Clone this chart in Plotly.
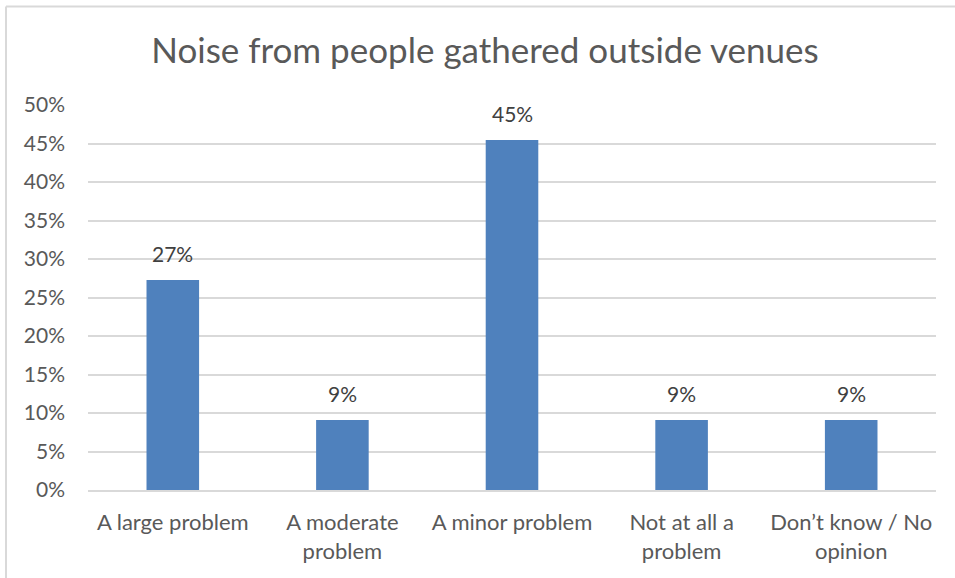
import plotly.graph_objects as go

categories = ["A large problem", "A moderate<br>problem", "A minor problem",
              "Not at all a<br>problem", "Don\u2019t know / No<br>opinion"]
values = [27.27, 9.09, 45.45, 9.09, 9.09]
labels = ["27%", "9%", "45%", "9%", "9%"]
tick_vals = [0, 5, 10, 15, 20, 25, 30, 35, 40, 45, 50]
tick_text = [f"{v}%" for v in tick_vals]

W, H = 955, 578
L, R, T, B = 88, 19, 105, 88
pw, ph = W - L - R, H - T - B

def px_x(p):
    return (p - L) / pw

def px_y(p):
    return (H - B - p) / ph

font = "Lato, 'Open Sans', sans-serif"

fig = go.Figure(go.Bar(
    x=list(range(len(categories))), y=values,
    marker=dict(color="#4F81BD", line=dict(width=0)),
    cliponaxis=False,
))

annotations = [
    dict(x=i, y=v, xref="x", yref="y", text=t, showarrow=False,
         yanchor="bottom", xanchor="center", yshift=12,
         font=dict(family=font, size=21, color="#404040"))
    for i, (v, t) in enumerate(zip(values, labels))
]

fig.update_layout(
    width=W, height=H,
    margin=dict(l=L, r=R, t=T, b=B),
    paper_bgcolor="white", plot_bgcolor="white",
    bargap=0.69,
    showlegend=False,
    title=dict(text="Noise from people gathered outside venues",
               x=485 / W, xanchor="center", y=1 - 51 / H, yanchor="middle",
               font=dict(family=font, size=35, color="#595959")),
    xaxis=dict(tickmode="array", tickvals=list(range(len(categories))),
               ticktext=categories, range=[-0.5, 4.5],
               showgrid=False, zeroline=False, showline=True,
               linecolor="#D9D9D9", linewidth=1.5, ticks="",
               ticklabelstandoff=12,
               tickfont=dict(family=font, size=22, color="#595959")),
    yaxis=dict(range=[0, 50], tickmode="array", tickvals=tick_vals,
               ticktext=tick_text, showgrid=True, gridcolor="#D9D9D9",
               gridwidth=1.5, zeroline=False, showline=False, ticks="",
               ticklabelstandoff=22,
               tickfont=dict(family=font, size=21, color="#595959")),
    annotations=annotations,
    shapes=[
        dict(type="line", xref="paper", yref="paper",
             x0=px_x(6), x1=px_x(W + 5), y0=px_y(6.5), y1=px_y(6.5),
             line=dict(color="#D9D9D9", width=2)),
        dict(type="line", xref="paper", yref="paper",
             x0=px_x(6), x1=px_x(6), y0=px_y(6.5), y1=px_y(H + 5),
             line=dict(color="#D9D9D9", width=2)),
    ],
)

fig.write_html("out.html", config={"displayModeBar": False},
               post_script="document.body.style.margin='0';")
